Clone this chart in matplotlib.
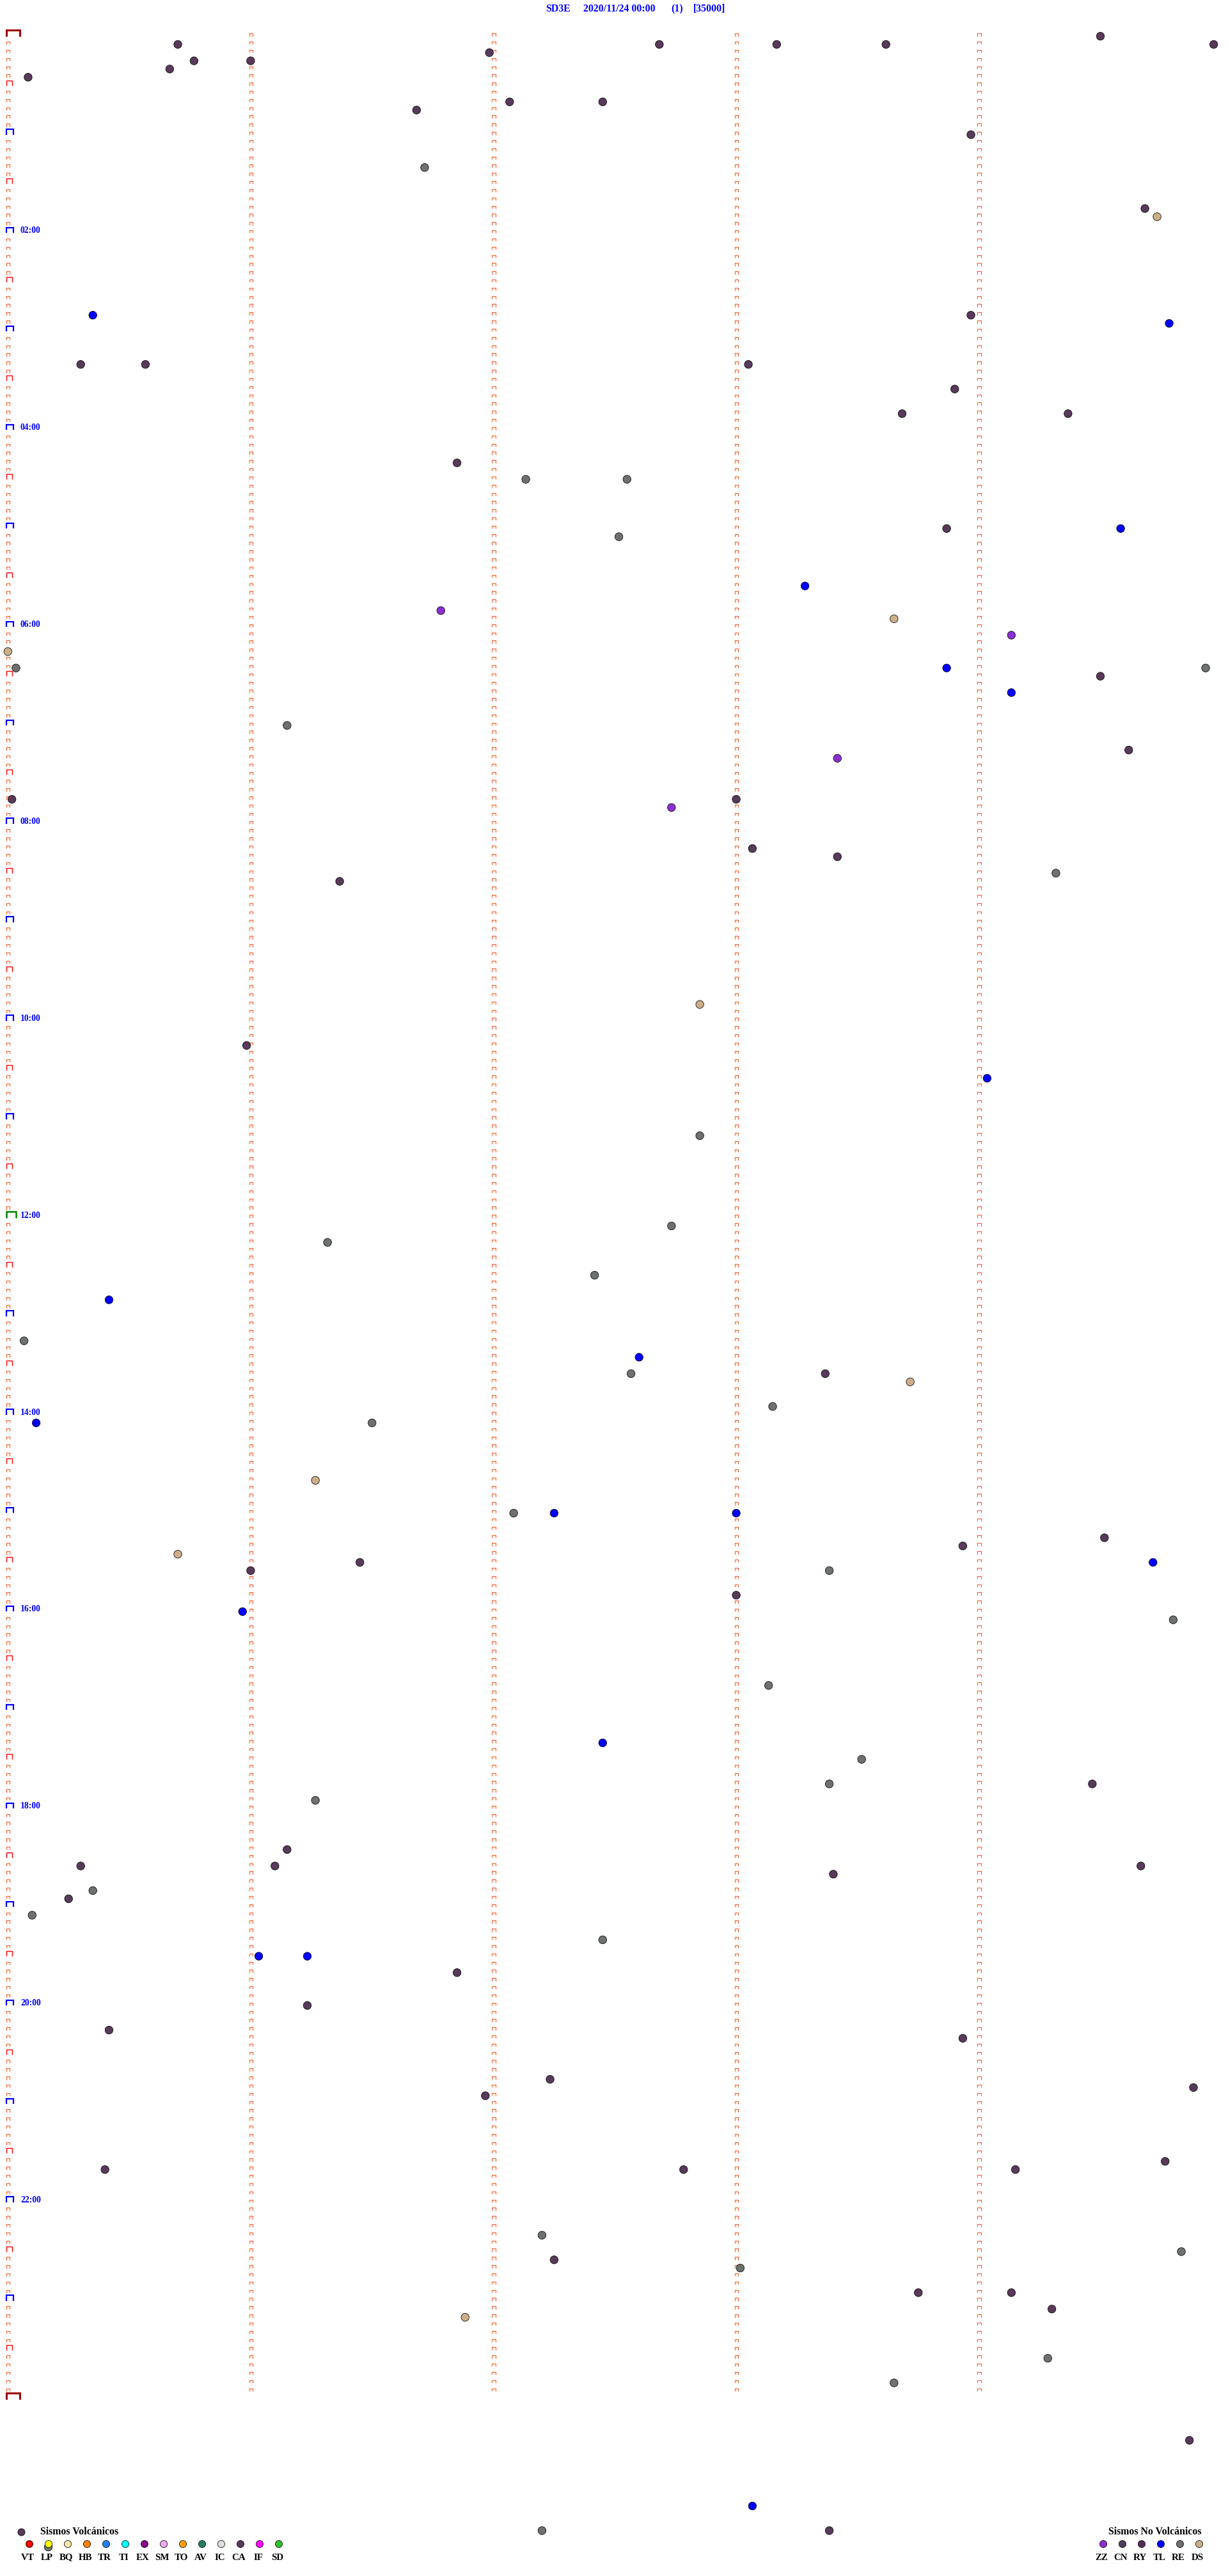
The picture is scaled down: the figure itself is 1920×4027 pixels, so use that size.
import numpy as np
import matplotlib.pyplot as plt
from matplotlib.collections import LineCollection

plt.rcParams['font.family'] = ['Liberation Serif', 'DejaVu Serif']

# header
station = 'SD3E'
drum_day = '2020/11/24 00:00'
drum_no = '(1)'
gain = '[35000]'

# events picked on the drum (hours past 24 run onto the next day)
event_times = [
    '00:04:30', '00:05:42', '00:07:41', '00:08:10', '00:08:37', '00:09:58', '00:11:59',
    '00:15:46', '00:16:00', '00:20:40', '00:25:05', '00:42:04', '00:42:27', '00:46:41',
    '01:03:58', '01:21:43', '01:49:41', '01:54:44', '02:50:21', '02:53:58', '02:59:47',
    '03:20:18', '03:20:34', '03:23:03', '03:38:54', '03:53:41', '03:54:22', '04:21:51',
    '04:32:08', '04:32:33', '05:03:52', '05:04:35', '05:07:31', '05:38:17', '05:51:47',
    '05:58:39', '06:09:08', '06:15:00', '06:25:02', '06:28:52', '06:29:56', '06:34:30',
    '06:44:08', '07:01:09', '07:19:37', '07:23:25', '07:45:01', '07:48:00', '07:52:44',
    '08:18:04', '08:23:25', '08:34:19', '08:36:22', '09:52:51', '10:15:59', '10:39:02',
    '11:12:51', '12:07:44', '12:16:19', '12:37:25', '12:50:25', '13:15:04', '13:27:36',
    '13:37:34', '13:38:22', '13:43:43', '13:58:09', '14:05:07', '14:06:30', '14:41:16',
    '15:02:05', '15:02:15', '15:03:00', '15:19:31', '15:23:56', '15:25:42', '15:31:27',
    '15:34:43', '15:36:00', '15:38:23', '15:53:00', '16:00:58', '16:09:48', '16:48:08',
    '17:22:27', '17:33:31', '17:48:23', '17:49:28', '17:56:16', '18:26:09', '18:35:18',
    '18:36:06', '18:39:40', '18:43:24', '18:50:21', '18:55:15', '19:05:06', '19:22:27',
    '19:31:02', '19:31:14', '19:41:51', '20:01:14', '20:15:25', '20:23:56', '20:47:14',
    '20:54:53', '20:56:58', '21:39:46', '21:40:24', '21:42:47', '21:44:09', '22:22:12',
    '22:34:50', '22:37:15', '22:43:01', '22:58:45', '22:59:08', '23:09:18', '23:11:53',
    '23:39:17', '23:53:39', '24:29:52', '25:08:04', '25:22:12', '25:23:23', '25:30:10',
]
event_types = [
    'CA', 'CA', 'CA', 'CA', 'CA', 'CA', 'CA',
    'CA', 'CA', 'CA', 'CA', 'CA', 'CA', 'CA',
    'CA', 'RE', 'CA', 'DS', 'TL', 'CA', 'TL',
    'CA', 'CA', 'CA', 'CA', 'CA', 'CA', 'CA',
    'RE', 'RE', 'CA', 'TL', 'RE', 'TL', 'ZZ',
    'DS', 'ZZ', 'DS', 'RE', 'TL', 'RE', 'CA',
    'TL', 'RE', 'CA', 'ZZ', 'CA', 'CA', 'ZZ',
    'CA', 'CA', 'RE', 'CA', 'DS', 'CA', 'TL',
    'RE', 'RE', 'RE', 'RE', 'TL', 'RE', 'TL',
    'RE', 'CA', 'DS', 'RE', 'TL', 'RE', 'DS',
    'RE', 'TL', 'TL', 'CA', 'CA', 'DS', 'CA',
    'TL', 'CA', 'RE', 'CA', 'TL', 'RE', 'RE',
    'TL', 'RE', 'RE', 'CA', 'RE', 'CA', 'CA',
    'CA', 'CA', 'CA', 'RE', 'CA', 'RE', 'RE',
    'TL', 'TL', 'CA', 'CA', 'CA', 'CA', 'CA',
    'CA', 'CA', 'CA', 'CA', 'CA', 'CA', 'RE',
    'RE', 'CA', 'RE', 'CA', 'CA', 'CA', 'DS',
    'RE', 'RE', 'CA', 'TL', 'RE', 'CA', 'RE',
]

volc_codes = ['VT', 'LP', 'BQ', 'HB', 'TR', 'TI', 'EX', 'SM', 'TO', 'AV', 'IC', 'CA', 'IF', 'SD']
volc_colors = ['#ff0000', '#ffff00', '#f5e3a8', '#ff8000', '#2080ff', '#00ffff', '#880088',
               '#f0a8f0', '#ffa000', '#208060', '#e0e0e0', '#583a5a', '#ff00ff', '#30c030']
nonvolc_codes = ['ZZ', 'CN', 'RY', 'TL', 'RE', 'DS']
nonvolc_colors = ['#8a30d0', '#523e5c', '#542e56', '#0000ff', '#6e726e', '#ccae88']

type_colors = dict(zip(volc_codes + nonvolc_codes, volc_colors + nonvolc_colors))

# drum geometry (output pixels)
W, H = 1920, 4027
ROW_SEC = 300            # each drum line holds 5 minutes
N_ROWS = 288
X0_PX = 12.3             # pixel of second 0
SEC_PX = 379.6 / 60      # pixels per second
Y0_PX = 56.6             # pixel of line 0
ROW_PX = 12.827          # pixels per line


def to_sec(t):
    h, m, s = (int(v) for v in t.split(':'))
    return h * 3600 + m * 60 + s


secs = np.array([to_sec(t) for t in event_times])
rows = secs // ROW_SEC
offs = secs % ROW_SEC


def caps(xs, ys, w_px, h_px):
    # small "n" shaped time marks, bottom sitting on the line
    segs = []
    for x, y in zip(xs, ys):
        x0 = x - 2.3 / SEC_PX
        x1 = x0 + w_px / SEC_PX
        yt = y - h_px / ROW_PX
        segs.append([(x0, y), (x0, yt), (x1, yt), (x1, y)])
    return segs


fig = plt.figure(figsize=(W / 100, H / 100), dpi=100)
ax = fig.add_axes([0, 0, 1, 1])
ax.set_xlim(-X0_PX / SEC_PX, (W - X0_PX) / SEC_PX)
ax.set_ylim((H - Y0_PX) / ROW_PX, -Y0_PX / ROW_PX)
ax.axis('off')

line_rows = np.arange(N_ROWS + 1)
small = [r for r in line_rows if r % 6 != 0]
half = [r for r in line_rows if r % 12 == 6]
hour = [r for r in line_rows if r % 12 == 0 and r not in (0, 144, N_ROWS)]

# left column marks
ax.add_collection(LineCollection(caps([0] * len(small), small, 5.3, 4.4),
                                 colors='#ff5a1f', linewidths=0.8))
ax.add_collection(LineCollection(caps([0] * len(half), half, 8.7, 8.0),
                                 colors='#ff0000', linewidths=1.0))
ax.add_collection(LineCollection(caps([0] * len(hour), hour, 10.7, 8.5),
                                 colors='#0000ff', linewidths=1.6, joinstyle='miter'))
ax.add_collection(LineCollection(caps([0], [144], 14.5, 10.0),
                                 colors='#008000', linewidths=1.8, joinstyle='miter'))
ax.add_collection(LineCollection(caps([0, 0], [0, N_ROWS], 21.4, 10.0),
                                 colors='#9b0000', linewidths=2.2, joinstyle='miter'))

# minute columns
for minute in range(1, 5):
    mrows = np.arange(N_ROWS)
    ax.add_collection(LineCollection(caps([minute * 60] * len(mrows), mrows, 5.3, 4.4),
                                     colors='#ff5a1f', linewidths=0.8))

# hour labels every 2 hours
for h in range(2, 24, 2):
    ax.text((32 - X0_PX) / SEC_PX, h * 12, f'{h:02d}:00', color='#0000ff',
            fontsize=9.8, fontweight='bold', ha='left', va='baseline')

ax.scatter(offs, rows, s=80, c=[type_colors[t] for t in event_types],
           edgecolors='black', linewidths=0.55, zorder=3)

# header and legends, pixel layer on top
lay = fig.add_axes([0, 0, 1, 1])
lay.set_xlim(0, W)
lay.set_ylim(H, 0)
lay.axis('off')

head_kw = dict(color='#0000ff', fontsize=11.4, fontweight='bold', va='baseline', ha='left')
lay.text(853, 18.5, station, **head_kw)
lay.text(911.5, 18.5, drum_day, **head_kw)
lay.text(1049, 18.5, drum_no, **head_kw)
lay.text(1084, 18.5, gain, **head_kw)

leg_kw = dict(color='black', fontweight='bold', va='baseline')
lay.scatter([33], [3958], s=64, c=type_colors['CA'], edgecolors='black', linewidths=0.55)
lay.text(63, 3962, 'Sismos Volcánicos', fontsize=11.4, ha='left', **leg_kw)
vx = 46 + 30 * np.arange(len(volc_codes))
lay.scatter(vx, [3977] * len(vx), s=64, c=volc_colors, edgecolors='black', linewidths=0.55)
for x, code in zip(vx, volc_codes):
    lay.text(x - 2.5, 4001.5, code, fontsize=10.8, ha='center', **leg_kw)

lay.text(1733, 3962, 'Sismos No Volcánicos', fontsize=11.4, ha='left', **leg_kw)
nx = 1725 + 30 * np.arange(len(nonvolc_codes))
lay.scatter(nx, [3977] * len(nx), s=64, c=nonvolc_colors, edgecolors='black', linewidths=0.55)
for x, code in zip(nx, nonvolc_codes):
    lay.text(x - 2.5, 4001.5, code, fontsize=10.8, ha='center', **leg_kw)

fig.savefig('out.png', dpi=100)
